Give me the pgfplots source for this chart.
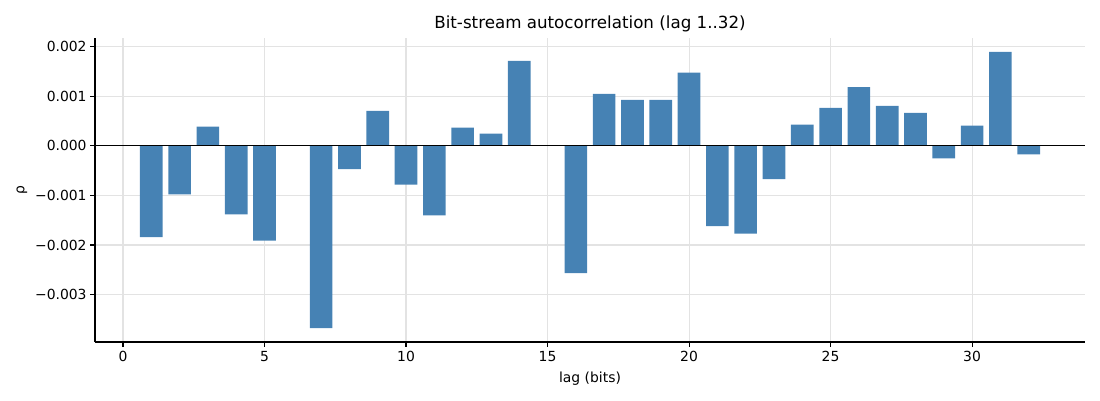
\documentclass[border=0pt]{standalone}
\usepackage{pgfplots}
\pgfplotsset{compat=1.18}
\usepackage{fontspec}
\setmainfont{DejaVu Sans}
\definecolor{steel}{HTML}{4682B4}
\definecolor{gridc}{HTML}{E3E3E3}
\pgfplotstableread{
lag rho
1 -0.00184
2 -0.00098
3 0.00039
4 -0.00138
5 -0.00191
7 -0.00368
8 -0.00047
9 0.00071
10 -0.00078
11 -0.00140
12 0.00037
13 0.00025
14 0.00172
16 -0.00257
17 0.00105
18 0.00093
19 0.00093
20 0.00148
21 -0.00162
22 -0.00177
23 -0.00067
24 0.00043
25 0.00077
26 0.00119
27 0.00081
28 0.00067
29 -0.00025
30 0.00041
31 0.00190
32 -0.00017
}\datatable
\begin{document}
\begin{tikzpicture}
\path[use as bounding box] (-95pt,-58pt) rectangle (1005pt,342pt);
\begin{axis}[
  at={(0,0)}, anchor=south west,
  scale only axis, width=990pt, height=304pt,
  xmin=-0.99, xmax=33.99, ymin=-0.00396, ymax=0.00218,
  axis x line*=bottom, axis y line*=left,
  axis line style={line width=1.1pt, -},
  xtick={0,5,10,15,20,25,30},
  xticklabels={0,5,10,15,20,25,30},
  ytick={-0.003,-0.002,-0.001,0,0.001,0.002},
  yticklabels={−0.003,−0.002,−0.001,0.000,0.001,0.002},
  scaled y ticks=false,
  tick align=outside, major tick length=4.9pt,
  tick style={line width=1.1pt, black},
  ticklabel style={font=\fontsize{13.9}{16}\selectfont},
  xticklabel style={yshift=-1pt},
  grid=major, major grid style={gridc, line width=1.1pt},
  title={Bit-stream autocorrelation (lag 1..32)},
  title style={font=\fontsize{16.7}{19}\selectfont, yshift=-4pt},
  xlabel={lag (bits)}, ylabel={ρ},
  label style={font=\fontsize{13.9}{16}\selectfont},
  xlabel style={yshift=-3pt},
  ylabel style={yshift=1pt},
  clip=false,
]
\addplot[ybar, bar width=0.8, bar shift=0pt, fill=steel, draw=none] table[x=lag, y=rho] {\datatable};
\draw[black, line width=1.1pt] (axis cs:-0.99,0) -- (axis cs:33.99,0);
\end{axis}
\end{tikzpicture}
\end{document}
